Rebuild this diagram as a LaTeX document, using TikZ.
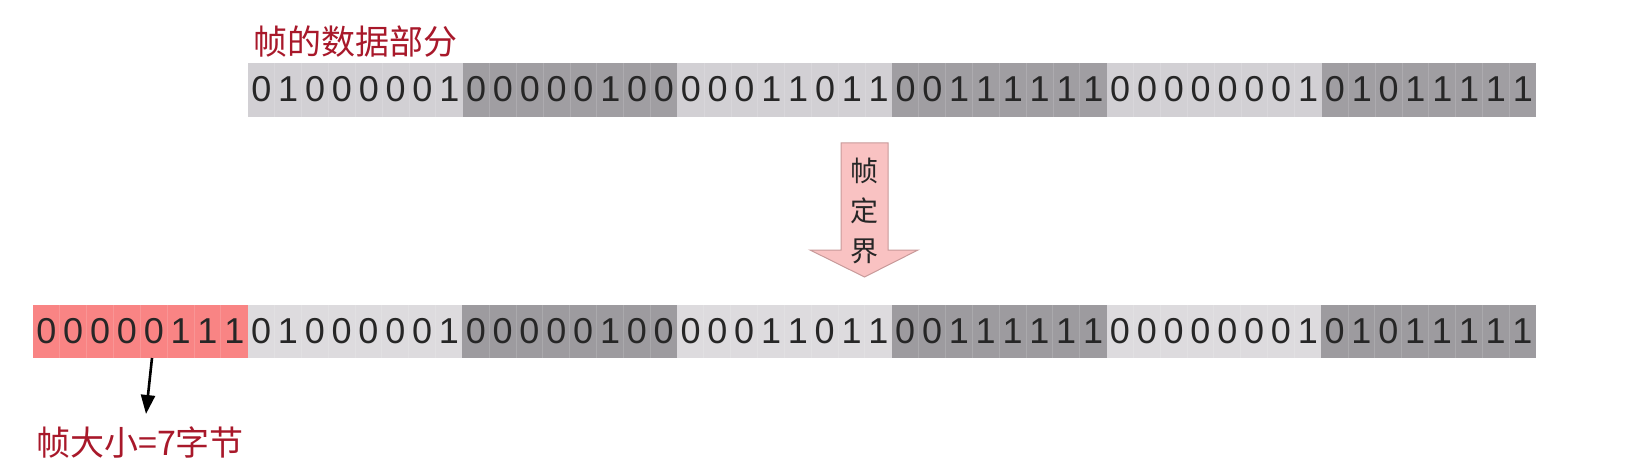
\documentclass[tikz,border=0pt]{standalone}
\usepackage{fontspec}
\setmainfont{Liberation Sans}
\newfontfamily\cjk{Noto Sans CJK SC}
\usetikzlibrary{arrows.meta}
\definecolor{lightA}{HTML}{D2D0D4}
\definecolor{darkA}{HTML}{A09EA2}
\definecolor{lightB}{HTML}{DDDBDE}
\definecolor{darkB}{HTML}{9D9B9F}
\definecolor{pinkbyte}{HTML}{F98484}
\definecolor{arrowfill}{HTML}{F9C2C2}
\definecolor{arrowline}{HTML}{C89A9A}
\definecolor{labelred}{HTML}{A8182A}
\begin{document}
\begin{tikzpicture}[x=1pt,y=-1pt,
  bytebox/.style={minimum width=214.7pt, minimum height=#1, inner sep=0pt, outer sep=0pt, anchor=north west},
  bitdigit/.style={font=\fontsize{36}{36}\selectfont, text=black!85, inner sep=0pt},
  sep/.style={draw=white, draw opacity=0.14, line width=1pt},
  redlabel/.style={font=\cjk\fontsize{34}{34}\selectfont, text=labelred, inner sep=0pt}]
\useasboundingbox (0,0) rectangle (1630,476);
\def\bw{214.7}
\def\cw{26.8375}
% top row (frame data)
\foreach \bits [count=\i from 0] in {{0,1,0,0,0,0,0,1},{0,0,0,0,0,1,0,0},{0,0,0,1,1,0,1,1},{0,0,1,1,1,1,1,1},{0,0,0,0,0,0,0,1},{0,1,0,1,1,1,1,1}}{
  \ifodd\i\def\fc{darkA}\else\def\fc{lightA}\fi
  \node[bytebox=54pt, fill=\fc] (t\i) at (248+\i*\bw, 63) {};
  \foreach \k in {1,...,7}{\draw[sep] (248+\i*\bw+\k*\cw, 63) -- (248+\i*\bw+\k*\cw, 117);}
  \foreach \d [count=\j from 0] in \bits {
    \node[bitdigit] (t\i-\j) at (248+\i*\bw+\j*\cw+0.5*\cw, 89) {\d};
  }
}
% bottom row (with size byte)
\node[bytebox=53pt, fill=pinkbyte] (b0) at (33, 305) {};
\foreach \k in {1,...,7}{\draw[sep] (33+\k*\cw, 305) -- (33+\k*\cw, 358);}
\foreach \d [count=\j from 0] in {0,0,0,0,0,1,1,1}{
  \node[bitdigit] (b0-\j) at (33+\j*\cw+0.5*\cw, 331) {\d};
}
\foreach \bits [count=\i from 1] in {{0,1,0,0,0,0,0,1},{0,0,0,0,0,1,0,0},{0,0,0,1,1,0,1,1},{0,0,1,1,1,1,1,1},{0,0,0,0,0,0,0,1},{0,1,0,1,1,1,1,1}}{
  \ifodd\i\def\fc{lightB}\else\def\fc{darkB}\fi
  \node[bytebox=53pt, fill=\fc] (b\i) at (33+\i*\bw, 305) {};
  \foreach \k in {1,...,7}{\draw[sep] (33+\i*\bw+\k*\cw, 305) -- (33+\i*\bw+\k*\cw, 358);}
  \foreach \d [count=\j from 0] in \bits {
    \node[bitdigit] (b\i-\j) at (33+\i*\bw+\j*\cw+0.5*\cw, 331) {\d};
  }
}
% labels
\node[redlabel, anchor=west] (datalbl) at (253,42) {帧的数据部分};
\node[redlabel, anchor=west] (sizelbl) at (36,442) {帧大小=7字节};
% framing arrow
\draw[draw=arrowline, line width=1pt, fill=arrowfill]
  (841,143) -- (888,143) -- (888,250) -- (918,250) -- (864.5,277) -- (810,250) -- (841,250) -- cycle;
\node[font=\cjk\fontsize{28}{40}\selectfont, text=black!85, align=center, inner sep=0pt] (fdj) at (864.5,211) {帧\\定\\界};
% size pointer
\coordinate (s) at (152,358);
\coordinate (e) at (146,414);
\draw[line width=2.6pt, -{Triangle[length=19pt,width=14pt]}] (s) -- (e);
\end{tikzpicture}
\end{document}
